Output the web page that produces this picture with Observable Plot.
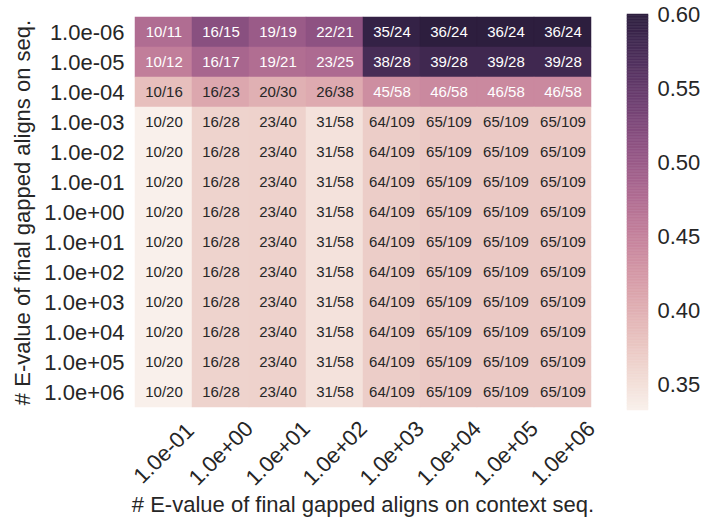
<!DOCTYPE html>
<html>
<head>
<meta charset="utf-8">
<script src="https://cdn.jsdelivr.net/npm/d3@7"></script>
<script src="https://cdn.jsdelivr.net/npm/@observablehq/plot@0.6"></script>
<style>
  html, body { margin: 0; padding: 0; background: #fff; }
  #wrap { position: relative; width: 718px; height: 524px; font-family: "Liberation Sans", Arial, sans-serif; }
  #wrap svg { position: absolute; top: 0; }
</style>
</head>
<body>
<div id="wrap"></div>
<script>
const rowLabels = ["1.0e-06","1.0e-05","1.0e-04","1.0e-03","1.0e-02","1.0e-01","1.0e+00","1.0e+01","1.0e+02","1.0e+03","1.0e+04","1.0e+05","1.0e+06"];
const colLabels = ["1.0e-01","1.0e+00","1.0e+01","1.0e+02","1.0e+03","1.0e+04","1.0e+05","1.0e+06"];
const cellLabels = [
  ["10/11","16/15","19/19","22/21","35/24","36/24","36/24","36/24"],
  ["10/12","16/17","19/21","23/25","38/28","39/28","39/28","39/28"],
  ["10/16","16/23","20/30","26/38","45/58","46/58","46/58","46/58"],
  ["10/20","16/28","23/40","31/58","64/109","65/109","65/109","65/109"],
  ["10/20","16/28","23/40","31/58","64/109","65/109","65/109","65/109"],
  ["10/20","16/28","23/40","31/58","64/109","65/109","65/109","65/109"],
  ["10/20","16/28","23/40","31/58","64/109","65/109","65/109","65/109"],
  ["10/20","16/28","23/40","31/58","64/109","65/109","65/109","65/109"],
  ["10/20","16/28","23/40","31/58","64/109","65/109","65/109","65/109"],
  ["10/20","16/28","23/40","31/58","64/109","65/109","65/109","65/109"],
  ["10/20","16/28","23/40","31/58","64/109","65/109","65/109","65/109"],
  ["10/20","16/28","23/40","31/58","64/109","65/109","65/109","65/109"],
  ["10/20","16/28","23/40","31/58","64/109","65/109","65/109","65/109"]
];
const cellValues = [
  [0.476,0.516,0.500,0.512,0.593,0.600,0.600,0.600],
  [0.455,0.485,0.475,0.479,0.576,0.582,0.582,0.582],
  [0.385,0.410,0.400,0.406,0.437,0.442,0.442,0.442],
  [0.333,0.364,0.365,0.348,0.370,0.374,0.374,0.374],
  [0.333,0.364,0.365,0.348,0.370,0.374,0.374,0.374],
  [0.333,0.364,0.365,0.348,0.370,0.374,0.374,0.374],
  [0.333,0.364,0.365,0.348,0.370,0.374,0.374,0.374],
  [0.333,0.364,0.365,0.348,0.370,0.374,0.374,0.374],
  [0.333,0.364,0.365,0.348,0.370,0.374,0.374,0.374],
  [0.333,0.364,0.365,0.348,0.370,0.374,0.374,0.374],
  [0.333,0.364,0.365,0.348,0.370,0.374,0.374,0.374],
  [0.333,0.364,0.365,0.348,0.370,0.374,0.374,0.374],
  [0.333,0.364,0.365,0.348,0.370,0.374,0.374,0.374]
];
const colorTicks = [0.35,0.40,0.45,0.50,0.55,0.60];
const xTitle = "# E-value of final gapped aligns on context seq.";
const yTitle = "# E-value of final gapped aligns on seq.";

// seaborn-style cubehelix palette (start=0, rot=0.4, hue=0.8, light=0.95, dark=0.15)
function cubehelixRGB(x) {
  const a = 0.8 * x * (1 - x) / 2;
  const phi = 2 * Math.PI * (0.4 * x);
  const c = Math.cos(phi), s = Math.sin(phi);
  const cl = v => Math.max(0, Math.min(1, v));
  return [cl(x + a * (-0.14861 * c + 1.78277 * s)),
          cl(x + a * (-0.29227 * c - 0.90649 * s)),
          cl(x + a * (1.97294 * c))];
}
function interp(t) {
  const [r, g, b] = cubehelixRGB(0.95 - 0.8 * t);
  return d3.rgb(r * 255, g * 255, b * 255).formatHex();
}
const flat = cellValues.flat();
const extent = d3.extent(flat);
const norm = v => (v - extent[0]) / (extent[1] - extent[0]);
function luminance(v) {
  const rgb = cubehelixRGB(0.95 - 0.8 * norm(v)).map(c => c <= 0.03928 ? c / 12.92 : Math.pow((c + 0.055) / 1.055, 2.4));
  return 0.2126 * rgb[0] + 0.7152 * rgb[1] + 0.0722 * rgb[2];
}

const table = rowLabels.flatMap((r, i) => colLabels.map((c, j) => ({
  row: r, col: c, label: cellLabels[i][j], value: cellValues[i][j]
})));

const font = {fontFamily: "'Liberation Sans', Arial, sans-serif", fontSize: "22px", color: "#262626", background: "transparent"};

const main = Plot.plot({
  width: 600, height: 524,
  marginLeft: 133, marginRight: 8, marginTop: 14, marginBottom: 114,
  style: font,
  x: {domain: colLabels, padding: 0, axis: null},
  y: {domain: rowLabels, padding: 0, axis: null},
  color: {type: "linear", domain: extent, interpolate: interp},
  marks: [
    Plot.cell(table, {x: "col", y: "row", fill: "value", stroke: "value", strokeWidth: 0.5, inset: 0}),
    Plot.text(table, {x: "col", y: "row", text: "label", fontSize: 15,
      fill: d => luminance(d.value) < 0.408 ? "#ffffff" : "#262626"}),
    Plot.axisY({tickSize: 0, tickPadding: 9, label: null, fontSize: 22, fill: "#262626"}),
    Plot.text(colLabels, {x: d => d, frameAnchor: "bottom", dy: 43, rotate: -45,
      textAnchor: "middle", lineAnchor: "middle", fontSize: 22, fill: "#262626"}),
    Plot.text([xTitle], {frameAnchor: "bottom", dy: 94, lineAnchor: "middle", fontSize: 22, fill: "#262626"}),
    Plot.text([yTitle], {frameAnchor: "left", dx: -111, rotate: -90, lineAnchor: "middle", textAnchor: "middle", fontSize: 22, fill: "#262626"})
  ]
});
main.style.left = "0px";

const steps = d3.range(256).map(i => ({
  v0: extent[0] + (extent[1] - extent[0]) * i / 256,
  v1: extent[0] + (extent[1] - extent[0]) * (i + 1) / 256,
  mid: extent[0] + (extent[1] - extent[0]) * (i + 0.5) / 256
}));

const bar = Plot.plot({
  width: 118, height: 524,
  marginLeft: 27, marginRight: 70, marginTop: 14, marginBottom: 114,
  style: font,
  x: {domain: [0, 1], axis: null},
  y: {domain: extent, axis: null},
  color: {type: "linear", domain: extent, interpolate: interp},
  marks: [
    Plot.rect(steps, {x1: 0, x2: 1, y1: "v0", y2: "v1", fill: "mid", stroke: "mid", strokeWidth: 0.5}),
    Plot.axisY({anchor: "right", ticks: colorTicks, tickFormat: ".2f", tickSize: 0, tickPadding: 9, label: null, fontSize: 22, fill: "#262626"})
  ]
});
bar.style.left = "600px";

const wrap = document.getElementById("wrap");
wrap.appendChild(main);
wrap.appendChild(bar);
</script>
</body>
</html>
